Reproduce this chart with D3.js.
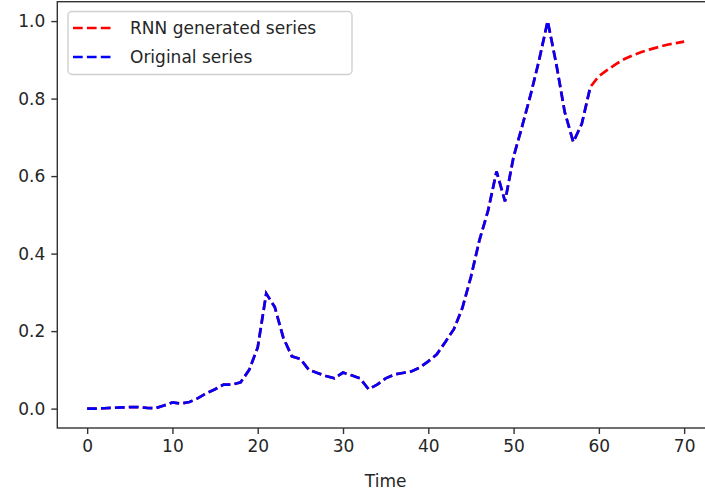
<!DOCTYPE html>

<head>
  <meta charset="utf-8">
  <script src="https://d3js.org/d3.v7.min.js"></script>
  <style>
    body { margin: 0; background: #fff; }
    svg { display: block; overflow: hidden; }
    text { font-family: "DejaVu Sans", sans-serif; fill: #262626; }
  </style>
</head>

<body>

  <svg width="705" height="495"></svg>

  <script>
    // values, one per time step
    const original = [
      0.000, 0.000, 0.001, 0.002, 0.003, 0.004, 0.004, 0.002, 0.001, 0.008,
      0.016, 0.013, 0.017, 0.027, 0.040, 0.050, 0.062, 0.062, 0.068, 0.100,
      0.158, 0.297, 0.262, 0.183, 0.135, 0.128, 0.100, 0.092, 0.084, 0.078,
      0.093, 0.086, 0.078, 0.050, 0.062, 0.078, 0.088, 0.092, 0.096, 0.106,
      0.122, 0.140, 0.172, 0.205, 0.260, 0.340, 0.435, 0.510, 0.612, 0.535,
      0.650, 0.728, 0.810, 0.900, 1.000, 0.890, 0.765, 0.688, 0.735, 0.830
    ];
    // what the RNN produced after the original series stops
    const generatedTail = [0.858, 0.874, 0.889, 0.902, 0.912, 0.920, 0.927, 0.933, 0.939, 0.943, 0.947];
    const generated = original.concat(generatedTail);

    const xTicks = [0, 10, 20, 30, 40, 50, 60, 70];
    const yTicks = [0.0, 0.2, 0.4, 0.6, 0.8, 1.0];
    const legendItems = [
      { label: "RNN generated series", color: "#ff0000" },
      { label: "Original series", color: "#0000ff" }
    ];

    const svg = d3.select("svg");
    const plotLeft = 57.3, plotRight = 714, plotTop = 1.7, plotBottom = 428;

    const n = generated.length - 1;
    const xPad = n * 0.05;
    const x = d3.scaleLinear().domain([-xPad, n + xPad]).range([plotLeft, plotRight]);
    const y = d3.scaleLinear().domain([-0.05, 1.05]).range([plotBottom, plotTop]);

    const line = d3.line()
      .x((d, i) => x(i))
      .y(d => y(d));

    // red first, blue drawn over it
    svg.append("path")
      .datum(generated)
      .attr("d", line)
      .attr("fill", "none")
      .attr("stroke", "#ff0000")
      .attr("stroke-width", 2.7)
      .attr("stroke-dasharray", "9.7 4.2");

    svg.append("path")
      .datum(original)
      .attr("d", line)
      .attr("fill", "none")
      .attr("stroke", "#0000ff")
      .attr("stroke-width", 2.7)
      .attr("stroke-dasharray", "9.7 4.2");

    // axes
    const xAxis = svg.append("g")
      .attr("transform", `translate(0,${plotBottom})`)
      .call(d3.axisBottom(x).tickValues(xTicks).tickSize(6).tickPadding(6).tickFormat(d3.format("d")));
    const yAxis = svg.append("g")
      .attr("transform", `translate(${plotLeft},0)`)
      .call(d3.axisLeft(y).tickValues(yTicks).tickSize(6).tickPadding(6).tickFormat(d3.format(".1f")));

    [xAxis, yAxis].forEach(a => {
      a.select(".domain").remove();
      a.selectAll(".tick line").attr("stroke", "#333").attr("stroke-width", 1.4);
      a.selectAll(".tick text")
        .attr("font-size", 17)
        .attr("font-family", "DejaVu Sans, sans-serif")
        .attr("fill", "#333");
    });

    svg.append("rect")
      .attr("x", plotLeft)
      .attr("y", plotTop)
      .attr("width", plotRight - plotLeft)
      .attr("height", plotBottom - plotTop)
      .attr("fill", "none")
      .attr("stroke", "#333")
      .attr("stroke-width", 1.4);

    svg.append("text")
      .attr("x", (plotLeft + plotRight) / 2)
      .attr("y", 487)
      .attr("text-anchor", "middle")
      .attr("font-size", 17)
      .attr("fill", "#333")
      .text("Time");

    // legend
    const legend = svg.append("g");
    legend.append("rect")
      .attr("x", 68)
      .attr("y", 11.5)
      .attr("width", 284)
      .attr("height", 63)
      .attr("rx", 4)
      .attr("fill", "#fff")
      .attr("fill-opacity", 0.8)
      .attr("stroke", "#d0d0d0")
      .attr("stroke-width", 1.4);

    legendItems.forEach((item, i) => {
      const cy = 28 + i * 29;
      legend.append("line")
        .attr("x1", 73).attr("x2", 113)
        .attr("y1", cy).attr("y2", cy)
        .attr("stroke", item.color)
        .attr("stroke-width", 2.7)
        .attr("stroke-dasharray", "9.7 4.2");
      legend.append("text")
        .attr("x", 130)
        .attr("y", cy)
        .attr("dy", "0.35em")
        .attr("font-size", 17)
        .attr("fill", "#333")
        .text(item.label);
    });
  </script>
</body>
